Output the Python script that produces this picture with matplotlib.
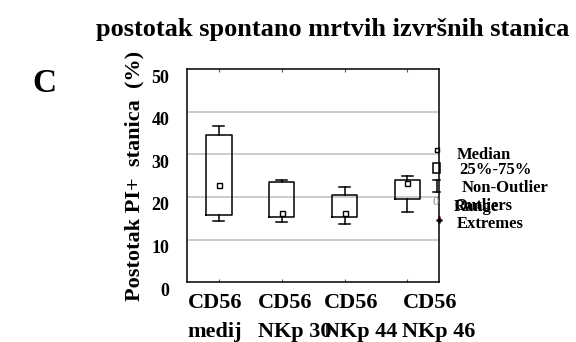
import matplotlib
matplotlib.use("Agg")
import matplotlib.pyplot
import matplotlib.transforms

groups = ["CD56\nmedij", "CD56\nNKp 30", "CD56\nNKp 44", "CD56\nNKp 46"]
medians = [22.7, 16.3, 16.3, 23.2]
q1 = [15.8, 15.2, 15.2, 19.5]
q3 = [34.6, 23.4, 20.5, 23.9]
whislo = [14.4, 14.0, 13.7, 16.5]
whishi = [36.6, 24.0, 22.4, 25.0]
yticks = [0, 10, 20, 30, 40, 50]
legend_labels = ["Median", "25%-75%", "Non-Outlier", "Outliers", "Range", "Extremes"]

class Main:
	def __init__(self):
		matplotlib.pyplot.rcParams["font.family"] = ["Liberation Serif", "DejaVu Serif"]
		matplotlib.pyplot.rcParams["font.weight"] = "bold"
		self.stats = None
		self.initialize()
		self.visualize()

	def initialize(self):
		self.stats = []
		for i in range(len(groups)):
			self.stats.append({
				"med": medians[i], "q1": q1[i], "q3": q3[i],
				"whislo": whislo[i], "whishi": whishi[i], "fliers": [],
			})

	def visualize(self):
		figure = matplotlib.pyplot.figure(figsize = (5.76, 3.42), dpi = 100)
		axes = figure.add_axes([0.325, 0.175, 0.437, 0.623])
		positions = list(range(1, len(groups) + 1))

		for y in yticks[1:-1]:
			axes.axhline(y, color = "#c4c4c4", linewidth = 1.2, zorder = 0)

		axes.bxp(
			self.stats, positions = positions, widths = 0.41, showfliers = False,
			boxprops = dict(color = "black", linewidth = 1.1),
			whiskerprops = dict(color = "black", linewidth = 1.1),
			capprops = dict(color = "black", linewidth = 1.1),
			medianprops = dict(linewidth = 0),
			capwidths = 0.17,
		)
		axes.plot(positions, medians, linestyle = "none", marker = "s", markersize = 3.6,
			markerfacecolor = "white", markeredgecolor = "black", markeredgewidth = 1.0, zorder = 5)

		axes.set_xlim(0.5, 4.5)
		axes.set_ylim(0, 50)
		axes.set_xticks(positions)
		axes.set_xticklabels(groups, fontsize = 16, fontweight = "bold", linespacing = 1.6,
			ha = "left", multialignment = "left")
		axes.set_yticks(yticks)
		axes.set_yticklabels([str(v) for v in yticks], fontsize = 13, fontweight = "bold")
		axes.tick_params(axis = "x", direction = "in", length = 2.5, top = True, pad = 8, color = "#555555")
		axes.tick_params(axis = "y", length = 0, pad = 13)
		# the category labels sit left-aligned, shifted by a few pixels each
		shifts = [-0.31, -0.24, -0.21, -0.05]
		for label, dx in zip(axes.get_xticklabels(), shifts):
			label.set_transform(label.get_transform() + matplotlib.transforms.ScaledTranslation(dx, 0, figure.dpi_scale_trans))
		offset = matplotlib.transforms.ScaledTranslation(0, -0.07, figure.dpi_scale_trans)
		for label in axes.get_yticklabels():
			label.set_transform(label.get_transform() + offset)
		for spine in axes.spines.values():
			spine.set_linewidth(1.1)

		axes.set_ylabel("Postotak PI+  stanica  (%)", fontsize = 16, fontweight = "bold", labelpad = 5)

		# legend drawn by hand, partly outside the axes
		sym_x = 0.995
		tr = axes.transAxes
		axes.plot([sym_x - 0.004], [0.62], marker = "s", markersize = 3.2, markerfacecolor = "white",
			markeredgecolor = "black", transform = tr, clip_on = False)
		axes.add_patch(matplotlib.patches.Rectangle((sym_x - 0.017, 0.51), 0.026, 0.05,
			transform = tr, clip_on = False, facecolor = "white", edgecolor = "black", linewidth = 1.1))
		axes.plot([sym_x - 0.004] * 2, [0.425, 0.48], color = "black", linewidth = 1.1, transform = tr, clip_on = False)
		axes.plot([sym_x - 0.017, sym_x + 0.009], [0.48, 0.48], color = "black", linewidth = 1.1, transform = tr, clip_on = False)
		axes.plot([sym_x - 0.017, sym_x + 0.009], [0.425, 0.425], color = "black", linewidth = 1.1, transform = tr, clip_on = False)
		axes.text(sym_x - 0.008, 0.375, "0", color = "#888888", fontsize = 9, fontweight = "normal",
			ha = "center", va = "center", transform = tr)
		axes.plot([1.0], [0.29], marker = "+", markersize = 5, markeredgewidth = 1.8,
			color = "black", transform = tr, clip_on = False)
		axes.plot([1.0], [0.305], marker = ".", markersize = 2, color = "red", transform = tr, clip_on = False)
		text_x = [1.07, 1.08, 1.09, 1.06, 1.06, 1.07]
		text_y = [0.595, 0.525, 0.44, 0.357, 0.352, 0.275]
		for i, name in enumerate(legend_labels):
			axes.text(text_x[i], text_y[i], name, fontsize = 12, fontweight = "bold",
				ha = "left", va = "center", transform = tr)

		figure.text(0.578, 0.915, "postotak spontano mrtvih izvršnih stanica", fontsize = 19,
			fontweight = "bold", ha = "center", va = "center")
		figure.text(0.078, 0.755, "C", fontsize = 24, fontweight = "bold", ha = "center", va = "center")

		figure.savefig("out.png", dpi = 100)

if __name__ == "__main__":
	main = Main()
